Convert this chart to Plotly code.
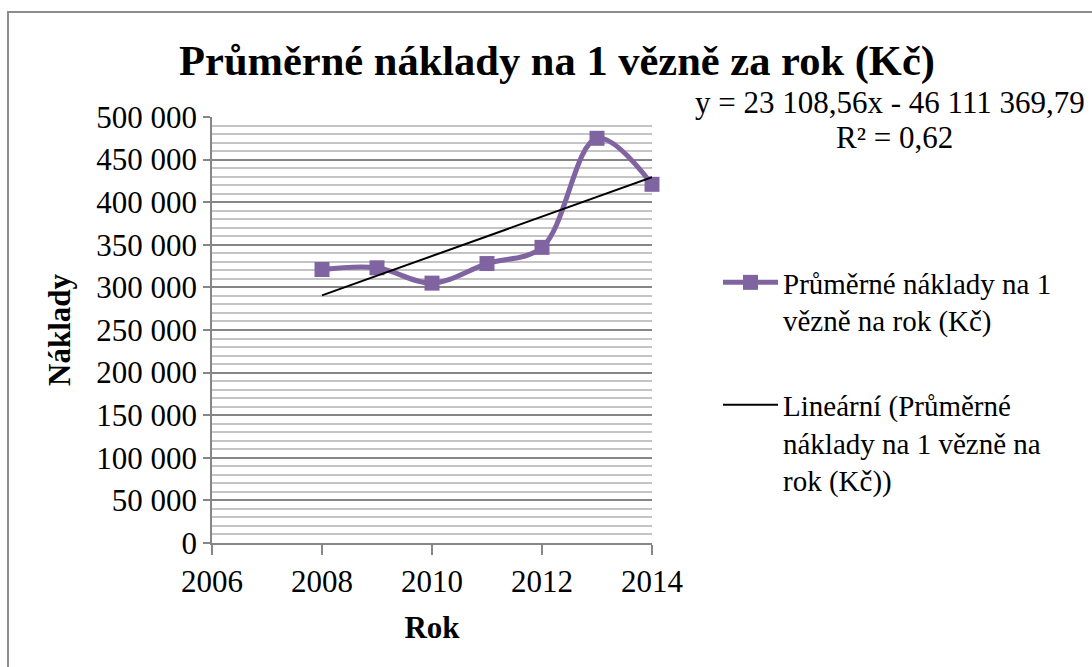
import plotly.graph_objects as go

# ---- data ----
years = [2008, 2009, 2010, 2011, 2012, 2013, 2014]
costs = [321000, 323000, 305000, 328000, 347000, 475000, 421000]
trend_slope = 23108.56
trend_intercept = -46111369.79
trend_years = [2008, 2014]
y_tick_vals = [0, 50000, 100000, 150000, 200000, 250000, 300000, 350000, 400000, 450000, 500000]
y_tick_labels = ["0", "50 000", "100 000", "150 000", "200 000", "250 000",
                 "300 000", "350 000", "400 000", "450 000", "500 000"]
x_tick_vals = [2006, 2008, 2010, 2012, 2014]
x_tick_labels = ["2006", "2008", "2010", "2012", "2014"]

title_text = "Průměrné náklady na 1 vězně za rok (Kč)"
series_name = "Průměrné náklady na 1<br>vězně na rok (Kč)"
trend_name = "Lineární (Průměrné<br>náklady na 1 vězně na<br>rok (Kč))"
eq_line1 = "y = 23 108,56x - 46 111 369,79"
eq_line2 = "R² = 0,62"

W, H = 1092, 667
FONT = "Liberation Serif, Times New Roman, serif"
PURPLE = "#8064A2"

def px_x(p):
    return p / W

def px_y(p):
    return 1 - p / H

trend_vals = [trend_slope * x + trend_intercept for x in trend_years]

fig = go.Figure()
fig.add_trace(go.Scatter(
    x=years, y=costs, name=series_name, mode="lines+markers",
    line=dict(color=PURPLE, width=5, shape="spline", smoothing=1.0),
    marker=dict(symbol="square", size=15, color=PURPLE),
    cliponaxis=False, legendgroup="a",
))
fig.add_trace(go.Scatter(
    x=trend_years, y=trend_vals, name=trend_name, mode="lines",
    line=dict(color="black", width=2), legendgroup="b",
))

fig.update_layout(
    width=W, height=H,
    margin=dict(l=0, r=0, t=0, b=0),
    paper_bgcolor="white", plot_bgcolor="white",
    font=dict(family=FONT, size=31, color="black"),
    title=dict(text="<b>" + title_text + "</b>", x=px_x(557), y=px_y(60),
               xanchor="center", yanchor="middle",
               font=dict(family=FONT, size=42.5, color="black")),
    showlegend=True,
    legend=dict(x=px_x(718), y=px_y(257), xanchor="left", yanchor="top",
                font=dict(family=FONT, size=29, color="black"),
                traceorder="grouped", tracegroupgap=44, itemwidth=55,
                valign="top", bgcolor="rgba(0,0,0,0)"),
    xaxis=dict(
        domain=[px_x(212), px_x(652)], range=[2006, 2014],
        tickvals=x_tick_vals, ticktext=x_tick_labels,
        ticks="outside", ticklen=10, tickcolor="#868686", tickwidth=1.5,
        showline=True, linecolor="#868686", linewidth=1.5,
        showgrid=False, zeroline=False, automargin=False,
        title=dict(text="<b>Rok</b>", standoff=18,
                   font=dict(family=FONT, size=31, color="black")),
        tickfont=dict(family=FONT, size=31, color="black"),
    ),
    yaxis=dict(
        domain=[px_y(543), px_y(117)], range=[0, 500000],
        tickvals=y_tick_vals, ticktext=y_tick_labels,
        ticks="outside", ticklen=7, tickcolor="#868686", tickwidth=1.5,
        showline=True, linecolor="#868686", linewidth=1.5,
        showgrid=True, gridcolor="#868686", gridwidth=1.5,
        minor=dict(dtick=10000, tick0=0, showgrid=True, gridcolor="#c4c4c4", gridwidth=1.5),
        zeroline=False, automargin=False,
        title=dict(text="<b>Náklady</b>", standoff=16,
                   font=dict(family=FONT, size=31, color="black")),
        tickfont=dict(family=FONT, size=31, color="black"),
    ),
    annotations=[
        dict(text=eq_line1, xref="paper", yref="paper", x=px_x(890), y=px_y(102),
             xanchor="center", yanchor="middle", showarrow=False,
             font=dict(family=FONT, size=31, color="black")),
        dict(text=eq_line2, xref="paper", yref="paper", x=px_x(894), y=px_y(138),
             xanchor="center", yanchor="middle", showarrow=False,
             font=dict(family=FONT, size=31, color="black")),
    ],
    shapes=[
        dict(type="rect", xref="paper", yref="paper",
             x0=px_x(8), x1=1.02, y0=-0.02, y1=px_y(12),
             line=dict(color="#8c8c8c", width=2), fillcolor="rgba(0,0,0,0)",
             layer="below"),
    ],
)

fig.write_html("out.html", config={"displayModeBar": False},
               post_script="document.body.style.margin='0';document.body.style.overflow='hidden';")
